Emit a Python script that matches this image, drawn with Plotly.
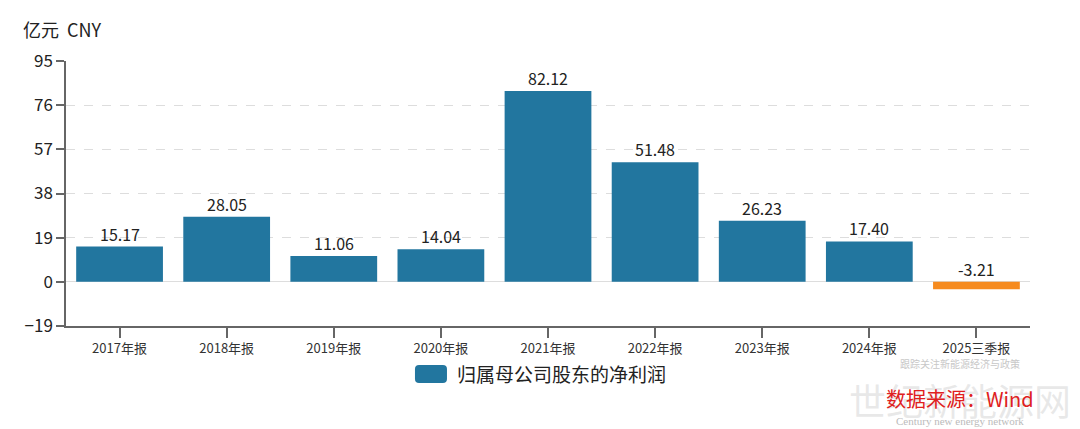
import plotly.graph_objects as go

categories = ["2017年报", "2018年报", "2019年报", "2020年报", "2021年报",
              "2022年报", "2023年报", "2024年报", "2025三季报"]
values = [15.17, 28.05, 11.06, 14.04, 82.12, 51.48, 26.23, 17.40, -3.21]
y_ticks = [-19, 0, 19, 38, 57, 76, 95]
series_name = "归属母公司股东的净利润"

BLUE = "#22769f"
ORANGE = "#f68b1f"
FONT = "Noto Sans CJK SC"

pos_vals = [v if v >= 0 else None for v in values]
neg_vals = [v if v < 0 else None for v in values]

fig = go.Figure()
fig.add_trace(go.Bar(x=categories, y=pos_vals, name=series_name, showlegend=False,
                     marker=dict(color=BLUE, line=dict(width=0))))
fig.add_trace(go.Bar(x=categories, y=neg_vals, name=series_name, showlegend=False,
                     marker=dict(color=ORANGE, line=dict(width=0))))

annotations = []
for c, v in zip(categories, values):
    annotations.append(dict(x=c, y=max(v, 0), text=f"{v:.2f}", showarrow=False,
                            yanchor="bottom", yshift=-1,
                            font=dict(family=FONT, size=16, color="#222222")))

annotations += [
    dict(xref="paper", yref="paper", x=-0.047, y=1.064, xanchor="left", yanchor="bottom",
         text="亿元  CNY", showarrow=False, font=dict(family=FONT, size=18, color="#222222")),
    # legend text
    dict(xref="paper", yref="paper", x=0.4035, y=-0.181, xanchor="left", yanchor="middle",
         text=series_name, showarrow=False, font=dict(family=FONT, size=19, color="#222222")),
    # watermark / source
    dict(xref="paper", yref="paper", x=0.927, y=-0.142, xanchor="center", yanchor="middle",
         text="跟踪关注新能源经济与政策", showarrow=False,
         font=dict(family=FONT, size=10, color="#c8c8c8")),
    dict(xref="paper", yref="paper", x=0.927, y=-0.28, xanchor="center", yanchor="middle",
         text="世纪新能源网", showarrow=False,
         font=dict(family=FONT, size=37, color="rgba(190,190,190,0.35)")),
    dict(xref="paper", yref="paper", x=0.927, y=-0.275, xanchor="center", yanchor="middle",
         text="数据来源：Wind", showarrow=False,
         font=dict(family=FONT, size=20, color="#e02020")),
    dict(xref="paper", yref="paper", x=0.927, y=-0.357, xanchor="center", yanchor="middle",
         text="Century new energy network", showarrow=False,
         font=dict(family="Liberation Serif", size=11, color="#bbbbbb")),
]

# rounded legend swatch (paper coordinates)
x0, x1, y0, y1 = 0.362, 0.3952, -0.215, -0.147
rx, ry = 0.0042, 0.015
swatch = (f"M {x0+rx},{y0} L {x1-rx},{y0} Q {x1},{y0} {x1},{y0+ry} "
          f"L {x1},{y1-ry} Q {x1},{y1} {x1-rx},{y1} L {x0+rx},{y1} "
          f"Q {x0},{y1} {x0},{y1-ry} L {x0},{y0+ry} Q {x0},{y0} {x0+rx},{y0} Z")

fig.update_layout(
    width=1080, height=429,
    margin=dict(l=66, r=50, t=61, b=103, autoexpand=False),
    paper_bgcolor="white", plot_bgcolor="white",
    barmode="overlay", bargap=0.19,
    font=dict(family=FONT, color="#222222"),
    showlegend=False,
    annotations=annotations,
    shapes=[dict(type="path", xref="paper", yref="paper", path=swatch,
                 fillcolor=BLUE, line=dict(width=0))],
    xaxis=dict(showline=True, linecolor="#666666", linewidth=1.5,
               ticks="outside", ticklen=10, tickcolor="#666666", tickwidth=1.5,
               tickfont=dict(family=FONT, size=13, color="#333333"),
               showgrid=False, zeroline=False),
    yaxis=dict(range=[-19, 95], tickvals=y_ticks, showline=True, linecolor="#666666",
               linewidth=1.5, ticks="outside", ticklen=8, tickcolor="#666666", tickwidth=1.5,
               tickfont=dict(family=FONT, size=17, color="#222222"),
               showgrid=True, gridcolor="#dddddd", griddash="dash", gridwidth=1,
               zeroline=True, zerolinecolor="#dddddd", zerolinewidth=1),
)

fig.write_html("out.html", config={"displayModeBar": False},
               post_script="document.body.style.margin='0';document.body.style.overflow='hidden';")
